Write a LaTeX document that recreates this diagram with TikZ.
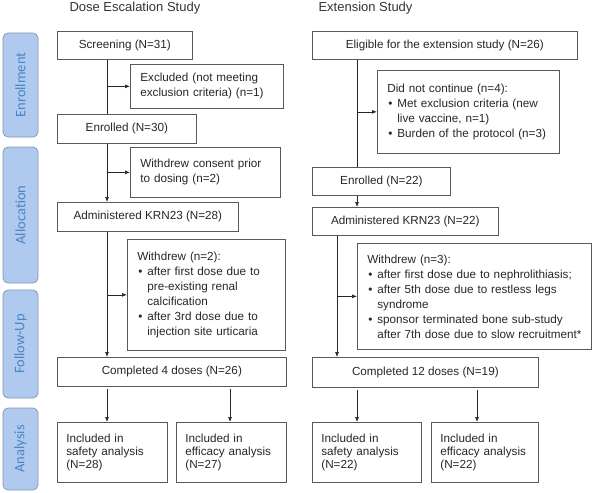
\documentclass[tikz,border=0pt]{standalone}
\usepackage{fontspec}
\setmainfont{Liberation Sans}
\newfontfamily\bandefont{Carlito}
\usetikzlibrary{arrows.meta}
\definecolor{bleu}{HTML}{AFCAEE}
\definecolor{bleutexte}{HTML}{4A85C6}
\definecolor{bord}{HTML}{8095B5}
\newcommand{\puce}{\makebox[10pt][l]{\hspace{1pt}\textbullet}}
\newcommand{\suite}{\hspace*{10pt}}

\begin{document}
\begin{tikzpicture}[x=1pt,y=-1pt,
 every node/.style={font=\fontsize{11.7}{15}\selectfont,text=black!85},
 boite/.style={draw=black!65,line width=0.7pt,anchor=north west,inner sep=0pt},
 liste/.style={boite,align=left,inner xsep=10pt},
 trait/.style={line width=0.7pt,draw=black!85},
 fleche/.style={trait,-{Latex[length=5pt,width=4pt]}},
 bande/.style={draw=bord,fill=bleu,rounded corners=5pt,line width=0.7pt},
 titre/.style={text=bleutexte,rotate=90,font=\bandefont\fontsize{14.5}{16}\selectfont}]

\useasboundingbox (0,0) rectangle (593,492);

% les bandes
\draw[bande] (3,33) rectangle (38,137) node[midway,titre] (b1) {Enrollment};
\draw[bande] (3,147) rectangle (38,283) node[midway,titre] (b2) {Allocation};
\draw[bande] (3,290) rectangle (38,398) node[midway,titre] (b3) {Follow-Up};
\draw[bande] (3,408) rectangle (38,490) node[midway,titre] (b4) {Analysis};

% les titres
\node[anchor=west,font=\fontsize{13}{15}\selectfont,text=black!80] (t1) at (66,8) {Dose Escalation Study};
\node[anchor=west,font=\fontsize{13}{15}\selectfont,text=black!80] (t2) at (315,8) {Extension Study};

% colonne gauche
\node[boite,minimum width=135pt,minimum height=28pt] (scr) at (57,31) {Screening (N=31)};
\node[liste,text width=133pt,minimum height=44pt] (excl) at (130,64) {Excluded (not meeting\\exclusion criteria) (n=1)};
\node[boite,minimum width=139pt,minimum height=29pt] (enr) at (57,114) {Enrolled (N=30)};
\node[liste,text width=130pt,minimum height=50pt] (wdc) at (130,147) {Withdrew consent prior\\to dosing (n=2)};
\node[boite,minimum width=181pt,minimum height=29pt] (adm) at (57,202) {Administered KRN23 (N=28)};
\node[liste,text width=138pt,minimum height=111pt] (wdr) at (127,239) {Withdrew (n=2):\\\puce after first dose due to\\\suite pre-existing renal\\\suite calcification\\\puce after 3rd dose due to\\\suite injection site urticaria};
\node[boite,minimum width=229pt,minimum height=29pt] (cmp) at (57,357) {Completed 4 doses (N=26)};
\node[liste,inner xsep=9pt,text width=92pt,minimum height=60pt,font=\fontsize{11.7}{13}\selectfont] (saf) at (57,422) {Included in\\safety analysis\\(N=28)};
\node[liste,inner xsep=9pt,text width=92pt,minimum height=60pt,font=\fontsize{11.7}{13}\selectfont] (eff) at (176,422) {Included in\\efficacy analysis\\(N=27)};

\coordinate (g) at (107,0);
\coordinate (g2) at (230,0);
\draw[trait] (scr.south -| g) -- (enr.north -| g);
\draw[fleche] (excl.west -| g) -- (excl.west);
\draw[fleche] (enr.south -| g) -- (adm.north -| g);
\draw[fleche] (wdc.west -| g) -- (wdc.west);
\draw[fleche] (adm.south -| g) -- (cmp.north -| g);
\draw[fleche] (wdr.west -| g) -- (wdr.west);
\draw[fleche] ([yshift=-2pt]cmp.south -| g) -- (saf.north -| g);
\draw[fleche] ([yshift=-2pt]cmp.south -| g2) -- (eff.north -| g2);

% colonne droite
\node[boite,minimum width=265pt,minimum height=28pt] (elig) at (312,31) {Eligible for the extension study (N=26)};
\node[liste,text width=162pt,minimum height=83pt] (nocont) at (377,70) {Did not continue (n=4):\\\puce Met exclusion criteria (new\\\suite live vaccine, n=1)\\\puce Burden of the protocol (n=3)};
\node[boite,minimum width=138pt,minimum height=28pt] (enr2) at (312,167) {Enrolled (N=22)};
\node[boite,minimum width=186pt,minimum height=28pt] (adm2) at (312,207) {Administered KRN23 (N=22)};
\node[liste,text width=214pt,minimum height=106pt] (wdr2) at (357,243) {Withdrew (n=3):\\\puce after first dose due to nephrolithiasis;\\\puce after 5th dose due to restless legs\\\suite syndrome\\\puce sponsor terminated bone sub-study\\\suite\mbox{after 7th dose due to slow recruitment*}};
\node[boite,minimum width=226pt,minimum height=30pt] (cmp2) at (312,357) {Completed 12 doses (N=19)};
\node[liste,inner xsep=9pt,text width=91pt,minimum height=60pt,font=\fontsize{11.7}{13}\selectfont] (saf2) at (312,422) {Included in\\safety analysis\\(N=22)};
\node[liste,inner xsep=9pt,text width=89pt,minimum height=60pt,font=\fontsize{11.7}{13}\selectfont] (eff2) at (431,422) {Included in\\efficacy analysis\\(N=22)};

\coordinate (d) at (357,0);
\coordinate (d1) at (337,0);
\coordinate (d2) at (477,0);
\draw[trait] (elig.south -| d) -- (enr2.north -| d);
\draw[fleche] (nocont.west -| d) -- (nocont.west);
\draw[fleche] (enr2.south -| d) -- (adm2.north -| d);
\draw[fleche] (adm2.south -| d1) -- (cmp2.north -| d1);
\draw[fleche] (wdr2.west -| d1) -- (wdr2.west);
\draw[fleche] ([yshift=-2pt]cmp2.south -| d) -- (saf2.north -| d);
\draw[fleche] ([yshift=-2pt]cmp2.south -| d2) -- (eff2.north -| d2);

\end{tikzpicture}
\end{document}
